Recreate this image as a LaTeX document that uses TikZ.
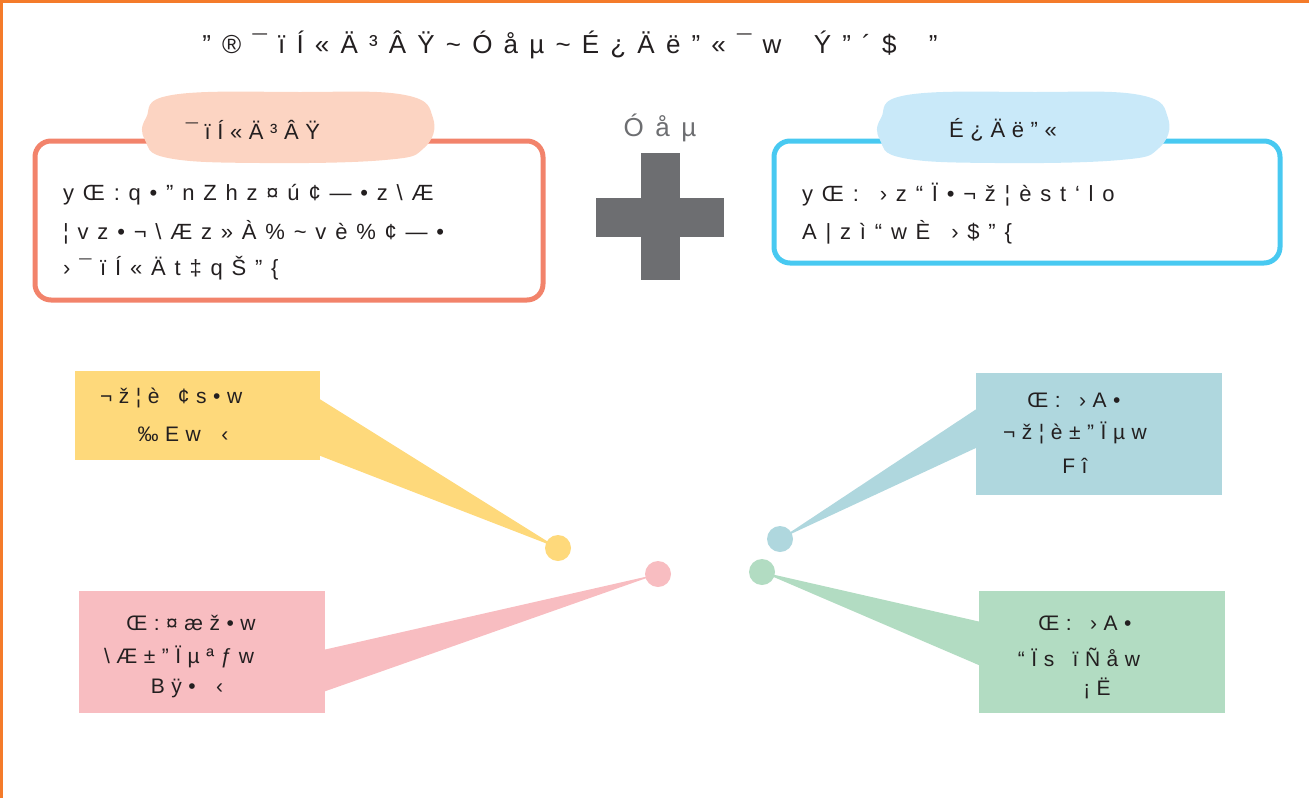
\documentclass[tikz,border=0pt]{standalone}
\usepackage{fontspec}
\setmainfont{Liberation Sans}
\newfontfamily\ttlfont[LetterSpace=43]{Liberation Sans}
\newfontfamily\bodyfont[LetterSpace=40]{Liberation Sans}
\newfontfamily\headfont[LetterSpace=30]{Liberation Sans}
\newfontfamily\calfont[LetterSpace=31]{Liberation Sans}
\newfontfamily\plusfont[LetterSpace=44]{Liberation Sans}
\definecolor{frameorange}{HTML}{F47B2A}
\definecolor{salmonline}{HTML}{F2836B}
\definecolor{peachblob}{HTML}{FCD4C2}
\definecolor{cyanline}{HTML}{48C9F1}
\definecolor{blueblob}{HTML}{C9E9F9}
\definecolor{plusgray}{HTML}{6D6E71}
\definecolor{calyellow}{HTML}{FED97B}
\definecolor{calteal}{HTML}{AFD7DE}
\definecolor{calpink}{HTML}{F8BDC1}
\definecolor{calgreen}{HTML}{B2DCC2}
\definecolor{inktext}{HTML}{231F20}
\tikzset{
  txt/.style={inner sep=0pt, text=inktext, font=\bodyfont\fontsize{22}{26}\selectfont},
  ctxt/.style={inner sep=0pt, text=inktext, font=\calfont\fontsize{21}{25}\selectfont},
  htxt/.style={inner sep=0pt, text=inktext, font=\headfont\fontsize{22}{26}\selectfont},
  ttl/.style={inner sep=0pt, text=inktext, font=\ttlfont\fontsize{26}{30}\selectfont},
  dotmark/.style={circle, minimum size=26pt, inner sep=0pt},
}
\begin{document}
\begin{tikzpicture}[x=1pt,y=-1pt]
\useasboundingbox (0,0) rectangle (1309,798);
% frame
\draw[frameorange, line width=3] (1.5,798) -- (1.5,1.5) -- (1309,1.5);
% title
\node[ttl, anchor=center] (title) at (570,45) {”®¯ïÍ«Ä³ÂŸ\textasciitilde Óåµ\textasciitilde É¿Äë”«¯w\hspace{14pt} Ý”´\$\hspace{14pt} ”};
% left box
\draw[salmonline, line width=5, rounded corners=16] (35,141) rectangle (543,300);
\fill[peachblob] plot[smooth cycle, tension=0.7] coordinates {(146,118) (172,95) (300,92) (405,95) (433,118) (424,148) (385,160) (260,163) (168,158) (145,140)};
\node[htxt] (lefttitle) at (253,130) {¯ïÍ«Ä³ÂŸ};
\node[txt, anchor=west] (l1) at (63,195) {yŒ:q•”nZhz¤ú¢—•z\textbackslash Æ};
\node[txt, anchor=west] (l2) at (63,232) {¦vz•¬\textbackslash Æz»À\%\textasciitilde vè\%¢—•};
\node[txt, anchor=west] (l3) at (63,268) {›¯ïÍ«Ät‡qŠ”\{};
% plus
\node[inner sep=0pt, text=plusgray, font=\plusfont\fontsize{26}{30}\selectfont] (plustext) at (660,128) {Óåµ};
\fill[plusgray] (641,153) rectangle (680,280);
\fill[plusgray] (596,198) rectangle (724,237);
% right box
\draw[cyanline, line width=5, rounded corners=16] (774,141) rectangle (1280,263);
\fill[blueblob] plot[smooth cycle, tension=0.7] coordinates {(881,118) (907,95) (1035,92) (1140,95) (1168,118) (1159,148) (1120,160) (995,163) (903,158) (880,140)};
\node[htxt] (righttitle) at (1003,130) {É¿Äë”«};
\node[txt, anchor=west] (r1) at (802,195) {yŒ:\hspace{6pt} ›z“Ï•¬ž¦èst‘lo};
\node[txt, anchor=west] (r2) at (802,232) {A|zì“wÈ\hspace{6pt} ›\$”\{};
% yellow callout
\coordinate (yc) at (558,548);
\fill[calyellow] (318,398) -- (yc) -- (318,455) -- cycle;
\fill[calyellow] (75,371) rectangle (320,460);
\node[dotmark, fill=calyellow] (ydot) at (yc) {};
\node[ctxt, anchor=west] (y1) at (100,398) {¬ž¦è\hspace{6pt} ¢s•w};
\node[ctxt] (y2) at (183,434) {‰Ew\hspace{8pt} ‹};
% teal callout
\coordinate (tc) at (780,539);
\fill[calteal] (978,408) -- (tc) -- (978,447) -- cycle;
\fill[calteal] (976,373) rectangle (1222,495);
\node[dotmark, fill=calteal] (tdot) at (tc) {};
\node[ctxt] (t1) at (1074,400) {Œ:\hspace{6pt} ›A•};
\node[ctxt] (t2) at (1075,433) {¬ž¦è±”Ïµw};
\node[ctxt] (t3) at (1075,466) {Fî};
% pink callout
\coordinate (pc) at (658,574);
\fill[calpink] (323,650) -- (pc) -- (323,692) -- cycle;
\fill[calpink] (79,591) rectangle (325,713);
\node[dotmark, fill=calpink] (pdot) at (pc) {};
\node[ctxt] (p1) at (191,623) {Œ:¤æž•w};
\node[ctxt] (p2) at (179,657) {\textbackslash Æ±”Ïµªƒw};
\node[ctxt] (p3) at (187,688) {Bÿ•\hspace{8pt} ‹};
% green callout
\coordinate (gc) at (762,572);
\fill[calgreen] (981,622) -- (gc) -- (981,666) -- cycle;
\fill[calgreen] (979,591) rectangle (1225,713);
\node[dotmark, fill=calgreen] (gdot) at (gc) {};
\node[ctxt] (g1) at (1085,623) {Œ:\hspace{6pt} ›A•};
\node[ctxt] (g2) at (1079,657) {“Ïs\hspace{6pt} ïÑåw};
\node[ctxt] (g3) at (1097,688) {¡Ë};
\end{tikzpicture}
\end{document}
